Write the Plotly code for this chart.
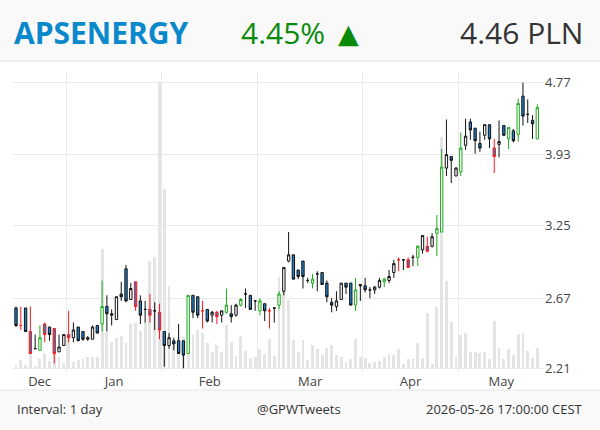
import pandas as pd
import plotly.graph_objects as go

# ---------------- data ----------------
holidays = ["2025-12-24", "2025-12-25", "2025-12-26", "2025-12-31", "2026-01-01",
            "2026-01-06", "2026-04-03", "2026-04-06", "2026-05-01"]
dates = [d for d in pd.bdate_range("2025-12-11", "2026-05-26")
         if d.strftime("%Y-%m-%d") not in holidays]

open_ = [2.60, 2.48, 2.60, 2.44, 2.33, 2.32, 2.49, 2.47, 2.46, 2.31,
         2.35, 2.42, 2.40, 2.47, 2.44, 2.39, 2.39, 2.48, 2.49, 2.61,
         2.56, 2.52, 2.70, 2.89, 2.66, 2.79, 2.65, 2.59, 2.59, 2.58,
         2.57, 2.44, 2.35, 2.38, 2.38, 2.38, 2.30, 2.69, 2.68, 2.58,
         2.59, 2.55, 2.57, 2.55, 2.57, 2.56, 2.55, 2.62, 2.70, 2.69,
         2.65, 2.58, 2.63, 2.58, 2.60, 2.62, 2.72, 2.95, 3.00, 2.88,
         2.95, 2.80, 2.78, 2.85, 2.86, 2.78, 2.64, 2.61, 2.66, 2.78,
         2.78, 2.62, 2.77, 2.76, 2.73, 2.73, 2.75, 2.79, 2.80, 2.86,
         2.96, 2.96, 2.96, 2.98, 2.98, 3.04, 3.07, 3.07, 3.18, 3.19,
         3.79, 3.91, 3.71, 3.75, 4.03, 4.29, 4.22, 4.05, 4.14, 4.26,
         4.00, 4.04, 4.25, 4.10, 4.19, 4.15, 4.60, 4.38, 4.31, 4.10]
high = [2.61, 2.61, 2.60, 2.61, 2.42, 2.48, 2.50, 2.47, 2.46, 2.42,
        2.42, 2.58, 2.50, 2.47, 2.44, 2.41, 2.48, 2.48, 2.80, 2.69,
        2.59, 2.68, 2.79, 2.92, 2.78, 2.79, 2.69, 2.65, 2.70, 2.64,
        2.63, 2.44, 2.43, 2.40, 2.49, 2.38, 2.69, 2.69, 2.68, 2.65,
        2.59, 2.58, 2.58, 2.58, 2.74, 2.62, 2.63, 2.67, 2.74, 2.69,
        2.65, 2.67, 2.63, 2.60, 2.60, 2.72, 2.90, 3.19, 3.00, 2.88,
        2.95, 2.82, 2.85, 2.87, 2.86, 2.80, 2.67, 2.72, 2.78, 2.78,
        2.78, 2.82, 2.77, 2.82, 2.75, 2.76, 2.82, 2.82, 2.88, 2.96,
        2.98, 2.96, 2.98, 3.00, 3.08, 3.16, 3.15, 3.18, 3.34, 3.99,
        4.32, 3.91, 3.80, 4.17, 4.33, 4.33, 4.22, 4.18, 4.26, 4.26,
        4.10, 4.31, 4.25, 4.23, 4.21, 4.57, 4.77, 4.56, 4.37, 4.50]
low = [2.47, 2.45, 2.44, 2.30, 2.33, 2.32, 2.37, 2.38, 2.24, 2.31,
       2.35, 2.37, 2.37, 2.38, 2.38, 2.38, 2.39, 2.43, 2.44, 2.44,
       2.48, 2.52, 2.65, 2.64, 2.66, 2.58, 2.49, 2.50, 2.50, 2.45,
       2.39, 2.22, 2.33, 2.32, 2.30, 2.21, 2.30, 2.53, 2.53, 2.46,
       2.50, 2.50, 2.49, 2.50, 2.56, 2.50, 2.54, 2.61, 2.60, 2.59,
       2.58, 2.55, 2.51, 2.46, 2.50, 2.59, 2.69, 2.94, 2.81, 2.81,
       2.74, 2.78, 2.74, 2.72, 2.77, 2.64, 2.57, 2.58, 2.66, 2.70,
       2.62, 2.58, 2.65, 2.71, 2.67, 2.70, 2.74, 2.75, 2.78, 2.82,
       2.87, 2.88, 2.90, 2.91, 2.91, 3.01, 3.02, 3.06, 2.99, 3.19,
       3.71, 3.64, 3.71, 3.71, 3.98, 4.09, 3.94, 3.96, 4.09, 4.00,
       3.74, 3.90, 4.13, 3.99, 4.06, 4.07, 4.25, 4.28, 4.10, 4.10]
close = [2.48, 2.48, 2.44, 2.30, 2.33, 2.40, 2.42, 2.42, 2.30, 2.34,
         2.42, 2.40, 2.45, 2.38, 2.39, 2.40, 2.47, 2.43, 2.61, 2.56,
         2.55, 2.68, 2.68, 2.65, 2.74, 2.61, 2.55, 2.59, 2.55, 2.58,
         2.45, 2.35, 2.40, 2.36, 2.30, 2.29, 2.69, 2.57, 2.55, 2.58,
         2.51, 2.57, 2.54, 2.58, 2.62, 2.54, 2.62, 2.66, 2.70, 2.59,
         2.65, 2.65, 2.58, 2.58, 2.60, 2.70, 2.90, 3.00, 2.81, 2.83,
         2.83, 2.80, 2.81, 2.85, 2.77, 2.68, 2.62, 2.65, 2.78, 2.75,
         2.62, 2.73, 2.76, 2.73, 2.73, 2.75, 2.80, 2.81, 2.83, 2.93,
         2.96, 2.96, 2.90, 2.98, 3.07, 3.16, 3.03, 3.15, 3.22, 3.80,
         3.93, 3.87, 3.79, 4.00, 4.13, 4.20, 4.08, 4.00, 4.26, 4.10,
         3.91, 4.07, 4.14, 4.23, 4.08, 4.51, 4.36, 4.38, 4.27, 4.46]
volume = [3, 8, 3, 15, 2, 9, 15, 7, 16, 11,
          5, 31, 6, 8, 9, 11, 11, 11, 119, 36,
          26, 30, 32, 25, 44, 45, 37, 46, 107, 111,
          285, 179, 82, 23, 31, 31, 33, 33, 38, 35,
          25, 16, 23, 16, 43, 26, 12, 32, 17, 10,
          11, 19, 14, 29, 12, 91, 79, 68, 28, 16,
          28, 8, 23, 19, 13, 20, 23, 13, 11, 6,
          9, 29, 11, 10, 5, 6, 7, 11, 14, 13,
          19, 4, 9, 9, 25, 10, 55, 4, 61, 231,
          87, 46, 11, 33, 35, 16, 16, 15, 16, 9,
          47, 20, 9, 19, 13, 34, 35, 17, 10, 20]
# signal flag of each session (u = strong up, d = strong down, n = neutral)
flag = ["n", "d", "n", "d", "n", "u", "d", "n", "d", "n",
        "n", "d", "n", "n", "n", "n", "n", "n", "u", "n",
        "n", "n", "n", "n", "n", "d", "n", "n", "d", "n",
        "d", "n", "n", "n", "n", "n", "u", "n", "n", "d",
        "n", "n", "d", "n", "u", "n", "n", "u", "n", "n",
        "n", "u", "n", "d", "n", "u", "n", "n", "n", "n",
        "n", "n", "u", "n", "n", "n", "n", "n", "n", "n",
        "n", "u", "n", "n", "n", "n", "n", "u", "n", "n",
        "d", "n", "d", "n", "u", "n", "d", "n", "u", "u",
        "n", "n", "n", "u", "n", "n", "n", "n", "n", "n",
        "d", "n", "n", "u", "n", "u", "n", "n", "n", "u"]

price_ticks = [2.21, 2.67, 3.25, 3.93, 4.77]
month_names = ["Dec", "Jan", "Feb", "Mar", "Apr", "May"]

ticker = "APSENERGY"
change_txt = "4.45%"
arrow_txt = "▲"
last_txt = "4.46 PLN"
footer_left = "Interval: 1 day"
footer_mid = "@GPWTweets"
footer_right = "2026-05-26 17:00:00 CEST"

# ---------------- figure ----------------
n = len(dates)
idx = list(range(n))
date_txt = [d.strftime("%Y-%m-%d") for d in dates]

BLUE = "#1f80c8"
edge = {"n": "#111111", "u": "#1fa81f", "d": "#ff1a1a"}

fig = go.Figure()

fig.add_trace(go.Bar(
    x=idx, y=volume, yaxis="y", marker=dict(color="#e4e4e4", line=dict(width=0)),
    width=0.6, hoverinfo="skip", showlegend=False))

for key, col in edge.items():
    sel = [i for i in idx if flag[i] == key]
    fig.add_trace(go.Candlestick(
        x=[idx[i] for i in sel],
        open=[open_[i] for i in sel], high=[high[i] for i in sel],
        low=[low[i] for i in sel], close=[close[i] for i in sel],
        text=[date_txt[i] for i in sel],
        yaxis="y2",
        increasing=dict(line=dict(color=col, width=1), fillcolor="white"),
        decreasing=dict(line=dict(color=col, width=1), fillcolor=BLUE),
        whiskerwidth=0, showlegend=False))

# month grid positions and label positions derived from the dates
months = [d.month for d in dates]
bounds = [i - 0.5 for i in range(1, n) if months[i] != months[i - 1]]
x_lo, x_hi = -0.63, n + 0.4
edges_all = [x_lo] + bounds + [x_hi]
label_pos = [(edges_all[k] + edges_all[k + 1]) / 2 for k in range(len(edges_all) - 1)]

FONT = "Open Sans, Noto Sans, sans-serif"

fig.update_layout(
    width=600, height=430,
    margin=dict(l=13, r=56, t=72, b=58),
    paper_bgcolor="white", plot_bgcolor="white",
    font=dict(family=FONT, size=13, color="#444"),
    bargap=0,
    xaxis=dict(range=[x_lo, x_hi], tickmode="array", tickvals=label_pos,
               ticktext=month_names, showgrid=False, zeroline=False, ticks="",
               showline=False, rangeslider=dict(visible=False),
               tickfont=dict(size=13, color="#444"),
               minor=dict(tickmode="array", tickvals=bounds, showgrid=True,
                          gridcolor="#e9e9e9", gridwidth=1, ticks="")),
    yaxis=dict(range=[-3.7, 296.3], showticklabels=False, showgrid=False,
               zeroline=False, fixedrange=True),
    yaxis2=dict(type="log", overlaying="y", side="right",
                range=[0.34006, 0.69104], tickmode="array",
                tickvals=price_ticks, ticktext=[f"{v:.2f}" for v in price_ticks],
                showgrid=True, gridcolor="#e9e9e9", zeroline=False, ticks="",
                tickfont=dict(size=13, color="#444")),
    hovermode="x",
)

def px_x(px):
    return (px - 13) / 531.0

def px_y(py):
    return (372 - py) / 300.0

fig.update_layout(shapes=[
    dict(type="rect", xref="paper", yref="paper", x0=px_x(0), x1=px_x(600),
         y0=px_y(61), y1=px_y(0), fillcolor="#f9f9f9", line=dict(width=0), layer="below"),
    dict(type="line", xref="paper", yref="paper", x0=px_x(0), x1=px_x(600),
         y0=px_y(61), y1=px_y(61), line=dict(color="#e6e6e6", width=1)),
    dict(type="rect", xref="paper", yref="paper", x0=px_x(0), x1=px_x(600),
         y0=px_y(430), y1=px_y(390), fillcolor="#f9f9f9", line=dict(width=0), layer="below"),
    dict(type="line", xref="paper", yref="paper", x0=px_x(0), x1=px_x(600),
         y0=px_y(390), y1=px_y(390), line=dict(color="#e6e6e6", width=1)),
])

ann = [
    dict(text=f"<b>{ticker}</b>", x=px_x(12), y=px_y(32), xanchor="left", yanchor="middle",
         font=dict(size=30, color="#0a88cc", family=FONT)),
    dict(text=change_txt, x=px_x(239), y=px_y(32), xanchor="left", yanchor="middle",
         font=dict(size=30, color="#0a8a0a", family=FONT)),
    dict(text=arrow_txt, x=px_x(336), y=px_y(33), xanchor="left", yanchor="middle",
         font=dict(size=27, color="#0a8a0a", family="DejaVu Sans")),
    dict(text=last_txt, x=px_x(585), y=px_y(32), xanchor="right", yanchor="middle",
         font=dict(size=30, color="#333333", family=FONT)),
    dict(text=footer_left, x=px_x(15), y=px_y(409), xanchor="left", yanchor="middle",
         font=dict(size=13, color="#333333", family=FONT)),
    dict(text=footer_mid, x=px_x(299), y=px_y(409), xanchor="center", yanchor="middle",
         font=dict(size=13, color="#333333", family=FONT)),
    dict(text=footer_right, x=px_x(585), y=px_y(409), xanchor="right", yanchor="middle",
         font=dict(size=13, color="#333333", family=FONT)),
]
for a in ann:
    a.update(xref="paper", yref="paper", showarrow=False)
fig.update_layout(annotations=ann)

fig.write_html("out.html")
